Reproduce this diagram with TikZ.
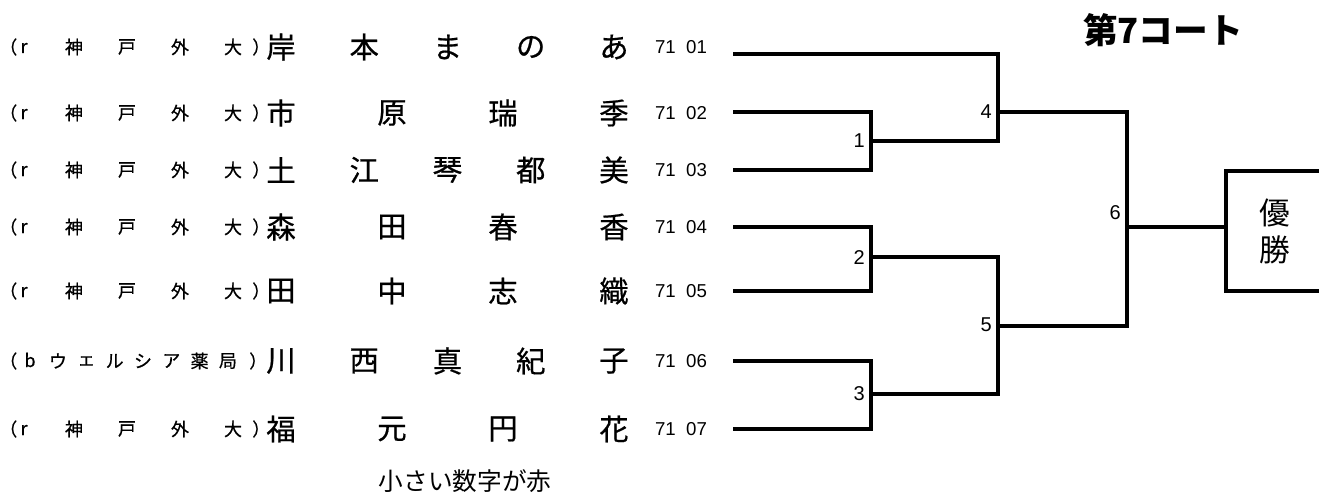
\documentclass[tikz,border=0pt]{standalone}
\usepackage{fontspec}
\setmainfont{Liberation Sans}
\newfontfamily\jp{Noto Sans CJK JP}
\newfontfamily\jph[FakeBold=0.6]{Noto Sans CJK JP}

\begin{document}
\begin{tikzpicture}[
  x=0.75pt, y=-0.75pt,
  txt/.style  ={inner sep=0},
  aff/.style  ={txt,font=\jph\fontsize{13.5}{13.5}\selectfont},
  nm/.style   ={txt,font=\jph\fontsize{22}{22}\selectfont},
  num/.style  ={txt,font=\fontsize{14}{14}\selectfont},
  rd/.style   ={txt,font=\fontsize{15}{15}\selectfont,anchor=east},
  bk/.style   ={draw,line width=2.3pt},
  win/.style  ={draw,line width=2.3pt,minimum width=73.5pt,minimum height=90pt,
                align=center,font=\jp\fontsize{23}{27.75}\selectfont},
]
\useasboundingbox (0,0) rectangle (1319,492);

% ----------------------------------------------------------- players
\foreach \i/\y/\ly/\st/\nm in {
    1/47/54/83.25/{岸,本,ま,の,あ},
    2/113/112/111/{市,原,瑞,季},
    3/170/170/83.25/{土,江,琴,都,美},
    4/227/227/111/{森,田,春,香},
    5/291/291/111/{田,中,志,織},
    6/361/361/83.25/{川,西,真,紀,子},
    7/429/429/111/{福,元,円,花}} {
  \foreach \c [count=\k from 0] in \nm {
    \node[nm] (n\i-\k) at (281+\k*\st, \y) {\c};
  }
  \node[num] (p\i) at (681, \y) {71~~0\i};
  \coordinate (a\i) at (733, \ly);
}

% ----------------------------------------------------------- affiliations
\foreach \i/\y in {1/47, 2/113, 3/170, 4/227, 5/291, 7/429} {
  \node[aff,anchor=west] (l\i) at (-1, \y) {（};
  \node[aff,anchor=base] (r\i) at (24, \y+6) {r};
  \foreach \c [count=\k from 0] in {神,戸,外,大}
    \node[aff] (o\i-\k) at (74+\k*53, \y) {\c};
  \node[aff,anchor=west] (e\i) at (252, \y) {）};
}
\node[aff,anchor=west] (l6) at (-1, 361) {（};
\node[aff,anchor=base] (r6) at (30, 367) {b};
\foreach \c [count=\k from 0] in {ウ,ェ,ル,シ,ア,薬,局}
  \node[aff] (o6-\k) at (58+\k*28.33, 361) {\c};
\node[aff,anchor=west] (e6) at (249, 361) {）};

% ----------------------------------------------------------- bracket
\coordinate (m1) at (871, 141);
\coordinate (m2) at (871, 257);
\coordinate (m3) at (871, 394);
\coordinate (m4) at (998, 112);
\coordinate (m5) at (998, 326);
\coordinate (m6) at (1127, 227);
\draw[bk] (a2) -| (m1) |- (a3);
\draw[bk] (a4) -| (m2) |- (a5);
\draw[bk] (a6) -| (m3) |- (a7);
\draw[bk] (a1) -| (m4) |- (m1);
\draw[bk] (m2) -| (m5) |- (m3);
\draw[bk] (m4) -| (m6) |- (m5);

\node[rd] (g1) at (865, 141) {1};
\node[rd] (g2) at (865, 258) {2};
\node[rd] (g3) at (865, 394) {3};
\node[rd] (g4) at (992, 112) {4};
\node[rd] (g5) at (992, 325) {5};
\node[rd] (g6) at (1121, 213) {6};

% ----------------------------------------------------------- winner, title, note
\node[win] (win) at (1275, 231) {優\\勝};
\draw[bk] (m6) -- (m6 -| win.west);

\node[txt,font=\jp\bfseries\fontsize{26}{26}\selectfont] (ttl) at (1163, 30) {第7コート};
\node[txt,font=\jp\fontsize{18.5}{18.5}\selectfont] (note) at (465, 481) {小さい数字が赤};

\end{tikzpicture}
\end{document}
